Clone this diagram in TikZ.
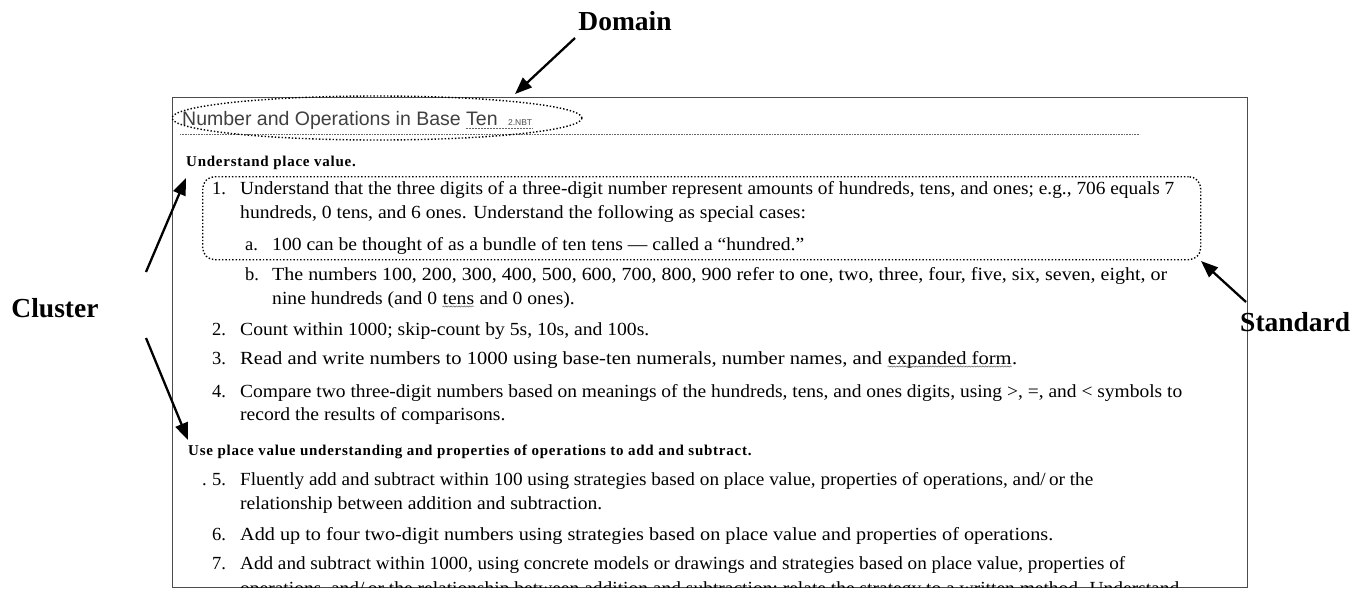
\documentclass[tikz,border=0pt]{standalone}
\usepackage{graphicx}
\usepackage{fontspec}
\setmainfont{Liberation Serif}
\newfontfamily\sansf{Liberation Sans}
\newfontfamily\headf[LetterSpace=5]{Liberation Serif}
\usetikzlibrary{arrows.meta,calc,shapes.geometric,decorations.pathmorphing}
\newcommand\wavyul[1]{\tikz[baseline=(w.base)]{\node[inner sep=0pt] (w) {#1};
  \draw[decorate, decoration={snake, amplitude=0.6pt, segment length=2.5pt}, line width=0.45pt, black!65]
   ($(w.base west)+(0pt,-2.5pt)$) -- ($(w.base east)+(0pt,-2.5pt)$);}}
\newcommand\fitto[2]{\resizebox{#1pt}{\height}{#2}}
\newcommand\wide[1]{\scalebox{1.06}[1]{#1}}
\begin{document}
\begin{tikzpicture}[x=1pt,y=-1pt,
 body/.style={anchor=base west, inner sep=0pt, font=\fontsize{18.5}{22}\selectfont},
 clus/.style={anchor=base west, inner sep=0pt, font=\headf\bfseries\fontsize{15}{17}\selectfont},
 lab/.style={font=\bfseries\fontsize{27.5}{30}\selectfont, inner sep=0pt},
 arr/.style={line width=2.3pt, -{Triangle[length=17pt,width=13pt]}},
 dotline/.style={dotted, line width=1.4pt},
 frame/.style={draw=black!70, line width=1.4pt},
]
\useasboundingbox (0,0) rectangle (1364,592);
\fill[white] (0,0) rectangle (1364,592);

% page frame
\node[frame, anchor=north west, minimum width=1075, minimum height=490, inner sep=0pt] (page) at (172,97) {};

% domain title
\node[anchor=base west, inner sep=0pt, font=\sansf\fontsize{19.5}{21}\selectfont, text=black!75] (title) at (182,125) {Number and Operations in Base Ten};
\node[anchor=base west, inner sep=0pt, font=\sansf\fontsize{8.5}{9}\selectfont, text=black!70] (code) at ($(title.base east)+(10,0)$) {2.NBT};
\draw[densely dotted, black!60, line width=0.5pt] ($(title.base east)+(-32,3)$) -- ($(code.base east)+(0,3)$);
\draw[densely dotted, black!60, line width=0.6pt] (180,134) -- (1140,134);
\node[ellipse, draw, dotline, minimum width=410, minimum height=44, inner sep=0pt] (domain) at (377,118) {};

% cluster 1
\node[clus] (c1) at (186,166) {Understand place value.};

% standard box
\node[draw, dotline, rounded corners=12pt, anchor=north west, minimum width=998, minimum height=83, inner sep=0pt] (std) at (202,176) {};

\node[body] (n1) at (212,194) {1.};
\node[body] (t1) at (240,194) {\fitto{934}{Understand that the three digits of a three-digit number represent amounts of hundreds, tens, and ones; e.g., 706 equals 7}};
\node[body] (t1b) at (240,218) {\wide{hundreds, 0 tens, and 6 ones. Understand the following as special cases:}};
\node[body] (na) at (245,250) {a.};
\node[body] (ta) at (272,250) {\wide{100 can be thought of as a bundle of ten tens — called a “hundred.”}};
\node[body] (nb) at (245,280) {b.};
\node[body] (tb) at (272,280) {\fitto{895}{The numbers 100, 200, 300, 400, 500, 600, 700, 800, 900 refer to one, two, three, four, five, six, seven, eight, or}};
\node[body] (tb2) at (272,304) {\wide{nine hundreds (and 0 \wavyul{tens} and 0 ones).}};
\node[body] (n2) at (212,335) {2.};
\node[body] (t2) at (240,335) {\wide{Count within 1000; skip-count by 5s, 10s, and 100s.}};
\node[body] (n3) at (212,364) {3.};
\node[body] (t3) at (240,364) {\fitto{777}{Read and write numbers to 1000 using base-ten numerals, number names, and \wavyul{expanded form}.}};
\node[body] (n4) at (212,397) {4.};
\node[body] (t4) at (240,397) {\fitto{942}{Compare two three-digit numbers based on meanings of the hundreds, tens, and ones digits, using >, =, and < symbols to}};
\node[body] (t4b) at (240,420) {\wide{record the results of comparisons.}};

% cluster 2
\node[clus] (c2) at (188,455) {Use place value understanding and properties of operations to add and subtract.};

\node[body] (dot5) at (202,485) {.};
\node[body] (n5) at (212,485) {5.};
\node[body] (t5) at (240,485) {\fitto{853}{Fluently add and subtract within 100 using strategies based on place value, properties of operations, and/\,or the}};
\node[body] (t5b) at (240,509) {\wide{relationship between addition and subtraction.}};
\node[body] (n6) at (212,540) {6.};
\node[body] (t6) at (240,540) {\fitto{813}{Add up to four two-digit numbers using strategies based on place value and properties of operations.}};
\node[body] (n7) at (212,569) {7.};
\node[body] (t7) at (240,569) {\fitto{885}{Add and subtract within 1000, using concrete models or drawings and strategies based on place value, properties of}};
\begin{scope}
\clip (172,97) rectangle (1247,587);
\node[body] (t7b) at (240,594) {\fitto{939}{operations, and/\,or the relationship between addition and subtraction; relate the strategy to a written method. Understand}};
\end{scope}

% labels
\node[lab] (lDomain) at (625,21) {Domain};
\node[lab] (lCluster) at (55,308) {Cluster};
\node[lab, anchor=west] (lStandard) at (1240,322) {Standard};

% arrows
\coordinate (dTail) at (575,38);
\coordinate (dTip) at (515,94);
\coordinate (sTail) at (1246,302);
\coordinate (sTip) at (1201,261);
\coordinate (cTail1) at (146,272);
\coordinate (cTip1) at (186,178);
\coordinate (cTail2) at (146,338);
\coordinate (cTip2) at (188,440);
\draw[arr] (dTail) -- (dTip);
\draw[arr] (sTail) -- (sTip);
\draw[arr] (cTail1) -- (cTip1);
\draw[arr] (cTail2) -- (cTip2);
\end{tikzpicture}
\end{document}
